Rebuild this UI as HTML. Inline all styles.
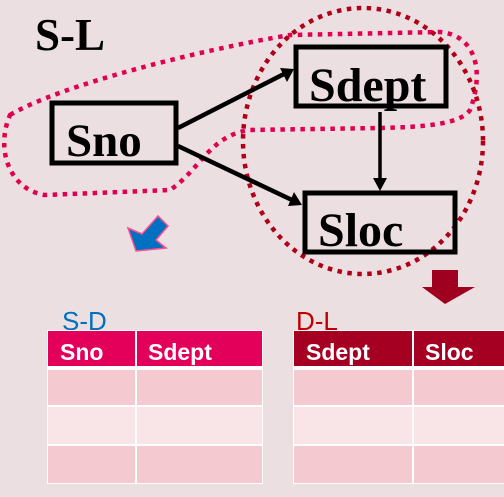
<!DOCTYPE html>
<html><head><style>
body{margin:0;width:504px;height:497px;overflow:hidden;background:#ecdfe2;font-family:"Liberation Sans",sans-serif}
</style></head><body>
<svg width="504" height="497" style="position:absolute;left:0;top:0">
<text x="35" y="50" font-family="Liberation Serif" font-weight="bold" font-size="45">S-L</text>
<path d="M10,115 C60,85 200,50 290,35 L440,32 C475,35 485,70 470,110 C460,125 420,127 380,128 L250,130 C210,135 200,170 170,190 L45,195 C10,190 -5,150 10,115 Z" fill="none" stroke="#e0004f" stroke-width="4.5" stroke-dasharray="4.5,5.5"/>
<ellipse cx="363" cy="141" rx="120" ry="133" fill="none" stroke="#b00018" stroke-width="4.5" stroke-dasharray="4.5,5.5"/>
<rect x="52" y="103" width="124" height="60" fill="none" stroke="#000" stroke-width="5"/>
<rect x="296" y="47" width="150" height="59" fill="none" stroke="#000" stroke-width="5"/>
<rect x="305" y="193" width="150" height="59" fill="none" stroke="#000" stroke-width="5"/>
<text x="66" y="156" font-family="Liberation Serif" font-weight="bold" font-size="47">Sno</text>
<text x="309" y="101" font-family="Liberation Serif" font-weight="bold" font-size="48">Sdept</text>
<text x="318" y="246" font-family="Liberation Serif" font-weight="bold" font-size="48">Sloc</text>
<line x1="178" y1="128" x2="284" y2="74" stroke="#000" stroke-width="4.5"/>
<polygon points="294,69 280,68 287,82" fill="#000"/>
<line x1="178" y1="146" x2="292" y2="200" stroke="#000" stroke-width="4.5"/>
<polygon points="302,205 288,206 294,192" fill="#000"/>
<line x1="380" y1="112" x2="380" y2="180" stroke="#000" stroke-width="3.5"/>
<polygon points="380,191 373,178 387,178" fill="#000"/>
<polygon points="128,228 142,234 158,216 168,226 156,240 166,248 136,251" fill="#0070c0" stroke="#ff4f8f" stroke-width="1.5"/>
<polygon points="432,270 458,270 458,287 475,287 445,304 422,287 432,287" fill="#a00020"/>
<text x="62" y="330" font-size="26" fill="#0070c0">S-D</text>
<text x="296" y="330" font-size="26" fill="#c00000">D-L</text>
<rect x="47" y="330" width="216" height="154" fill="#fff"/>
<rect x="48" y="331" width="87" height="35" fill="#e2005a"/><rect x="137" y="331" width="125" height="35" fill="#e2005a"/>
<rect x="48" y="370" width="87" height="35" fill="#f4c9d0"/><rect x="137" y="370" width="125" height="35" fill="#f4c9d0"/>
<rect x="48" y="407" width="87" height="37" fill="#f9e5e8"/><rect x="137" y="407" width="125" height="37" fill="#f9e5e8"/>
<rect x="48" y="446" width="87" height="37" fill="#f4c9d0"/><rect x="137" y="446" width="125" height="37" fill="#f4c9d0"/>
<rect x="293" y="330" width="211" height="154" fill="#fff"/>
<rect x="294" y="331" width="118" height="35" fill="#a50021"/><rect x="414" y="331" width="90" height="35" fill="#a50021"/>
<rect x="294" y="370" width="118" height="35" fill="#f4c9d0"/><rect x="414" y="370" width="90" height="35" fill="#f4c9d0"/>
<rect x="294" y="407" width="118" height="37" fill="#f9e5e8"/><rect x="414" y="407" width="90" height="37" fill="#f9e5e8"/>
<rect x="294" y="446" width="118" height="37" fill="#f4c9d0"/><rect x="414" y="446" width="90" height="37" fill="#f4c9d0"/>
<g font-weight="bold" font-size="23" fill="#fff">
<text x="60" y="360">Sno</text><text x="148" y="360">Sdept</text>
<text x="306" y="360">Sdept</text><text x="425" y="360">Sloc</text>
</g>
</svg>
</body></html>
